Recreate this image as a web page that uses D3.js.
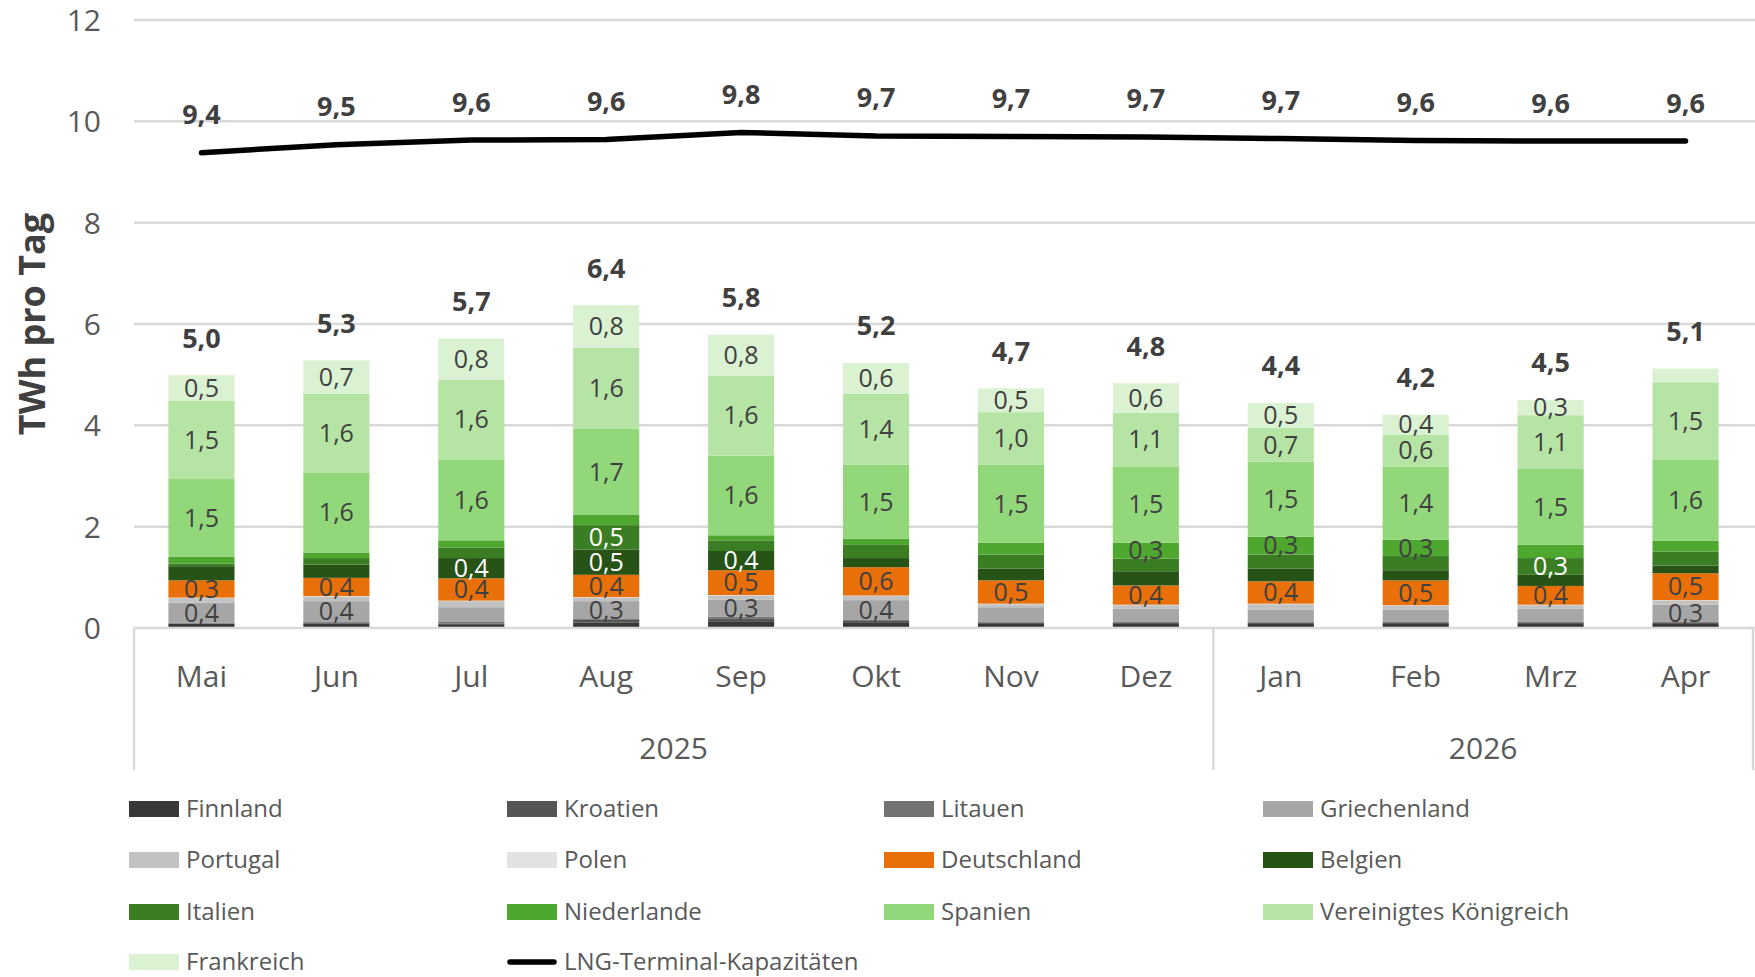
<!DOCTYPE html>
<html>
<head>
<meta charset="utf-8">
<script src="https://cdn.jsdelivr.net/npm/d3@7"></script>
<style>
  body { margin: 0; background: #fff; }
  svg text { font-family: "Open Sans", sans-serif; }
</style>
</head>
<body>
<svg id="chart" width="1755" height="977"></svg>
<script>
// Monate und Jahresgruppen
const months = ["Mai", "Jun", "Jul", "Aug", "Sep", "Okt", "Nov", "Dez", "Jan", "Feb", "Mrz", "Apr"];
const yearGroups = [
  { year: "2025", first: "Mai", last: "Dez" },
  { year: "2026", first: "Jan", last: "Apr" }
];
const yTicks = [0, 2, 4, 6, 8, 10, 12];

// Reihen von unten nach oben (TWh pro Tag)
const seriesNames = ["Finnland", "Kroatien", "Litauen", "Griechenland", "Portugal", "Polen",
  "Deutschland", "Belgien", "Italien", "Niederlande", "Spanien", "Vereinigtes Königreich", "Frankreich"];

const finnland     = [0.08, 0.09, 0.06, 0.11, 0.12, 0.10, 0.08, 0.08, 0.08, 0.08, 0.08, 0.08];
const kroatien     = [0.01, 0.02, 0.03, 0.05, 0.06, 0.04, 0.03, 0.02, 0.03, 0.02, 0.02, 0.02];
const litauen      = [0.01, 0.02, 0.03, 0.03, 0.04, 0.03, 0.02, 0.02, 0.02, 0.02, 0.02, 0.02];
const griechenland = [0.40, 0.40, 0.29, 0.34, 0.34, 0.38, 0.28, 0.26, 0.23, 0.24, 0.26, 0.34];
const portugal     = [0.09, 0.09, 0.12, 0.07, 0.08, 0.08, 0.06, 0.07, 0.11, 0.08, 0.07, 0.08];
const polen        = [0.01, 0.01, 0.01, 0.01, 0.01, 0.01, 0.01, 0.01, 0.01, 0.01, 0.01, 0.01];
const deutschland  = [0.34, 0.36, 0.44, 0.44, 0.49, 0.56, 0.46, 0.38, 0.44, 0.49, 0.37, 0.53];
const belgien      = [0.28, 0.26, 0.40, 0.50, 0.38, 0.18, 0.23, 0.28, 0.25, 0.20, 0.22, 0.15];
const italien      = [0.05, 0.13, 0.21, 0.48, 0.21, 0.26, 0.28, 0.25, 0.28, 0.28, 0.33, 0.28];
const niederlande  = [0.14, 0.11, 0.14, 0.20, 0.10, 0.12, 0.23, 0.31, 0.35, 0.32, 0.26, 0.21];
const spanien      = [1.53, 1.57, 1.60, 1.70, 1.57, 1.46, 1.54, 1.51, 1.48, 1.44, 1.50, 1.61];
const vereinigtesKoenigreich = [1.54, 1.56, 1.57, 1.60, 1.58, 1.40, 1.04, 1.06, 0.67, 0.64, 1.06, 1.52];
const frankreich   = [0.51, 0.66, 0.81, 0.84, 0.81, 0.61, 0.47, 0.58, 0.49, 0.39, 0.30, 0.27];

const lngCapacity  = [9.38, 9.54, 9.63, 9.64, 9.78, 9.71, 9.70, 9.69, 9.66, 9.62, 9.61, 9.61];
const lineName = "LNG-Terminal-Kapazitäten";

const seriesValues = [finnland, kroatien, litauen, griechenland, portugal, polen,
  deutschland, belgien, italien, niederlande, spanien, vereinigtesKoenigreich, frankreich];

const colors = ["#383838", "#555555", "#727272", "#a6a6a6", "#c2c2c2", "#e2e2e2",
  "#e97009", "#275317", "#3b7d23", "#4ea72e", "#92d87a", "#b6e4a4", "#daf2d2"];
const whiteLabelSeries = ["Belgien", "Italien"];

const rows = months.map((m, i) => {
  const r = { month: m };
  seriesNames.forEach((s, j) => r[s] = seriesValues[j][i]);
  return r;
});

const fmt = v => d3.format(".1f")(v).replace(".", ",");

const svg = d3.select("#chart");
svg.append("rect").attr("width", 1755).attr("height", 977).attr("fill", "#fff");

const x = d3.scaleBand().domain(months).range([134, 1753]).paddingInner(0.51).paddingOuter(0.255);
const y = d3.scaleLinear().domain([0, 12]).range([628, 20]);
const color = d3.scaleOrdinal().domain(seriesNames).range(colors);

// Gitterlinien
svg.append("g").selectAll("line").data(yTicks.filter(t => t > 0)).join("line")
  .attr("x1", 134).attr("x2", 1755)
  .attr("y1", d => y(d)).attr("y2", d => y(d))
  .attr("stroke", "#d9d9d9").attr("stroke-width", 2.5);

// Y-Achse
const yAxis = svg.append("g").attr("transform", "translate(118,0)")
  .call(d3.axisLeft(y).tickValues(yTicks).tickSize(0).tickPadding(0));
yAxis.select(".domain").remove();
yAxis.selectAll("text").attr("fill", "#595959").style("font-size", "30px")
  .attr("x", -17).attr("dy", "0.35em");

svg.append("text")
  .attr("transform", "translate(32," + y(6) + ") rotate(-90)")
  .attr("text-anchor", "middle").attr("dy", "0.35em")
  .attr("fill", "#404040").style("font-size", "36px").style("font-weight", "bold")
  .text("TWh pro Tag");

// Gestapelte Balken
const stack = d3.stack().keys(seriesNames)(rows);
const layer = svg.append("g").selectAll("g").data(stack).join("g")
  .attr("fill", d => color(d.key));
layer.selectAll("rect").data(d => d).join("rect")
  .attr("x", d => x(d.data.month))
  .attr("width", x.bandwidth())
  .attr("y", d => y(d[1]))
  .attr("height", d => y(d[0]) - y(d[1]));

// Segmentbeschriftungen
const labels = svg.append("g");
stack.forEach(s => {
  labels.selectAll(null).data(s.filter(d => d[1] - d[0] >= 0.295)).join("text")
    .attr("x", d => x(d.data.month) + x.bandwidth() / 2)
    .attr("y", d => y((d[0] + d[1]) / 2))
    .attr("dy", "0.35em").attr("text-anchor", "middle")
    .attr("fill", whiteLabelSeries.includes(s.key) ? "#ffffff" : "#404040")
    .style("font-size", "25px")
    .text(d => fmt(d[1] - d[0]));
});

// Summen
const totals = rows.map(r => ({ month: r.month, total: d3.sum(seriesNames, s => r[s]) }));
svg.append("g").selectAll("text").data(totals).join("text")
  .attr("x", d => x(d.month) + x.bandwidth() / 2)
  .attr("y", d => y(d.total) - 37)
  .attr("dy", "0.35em").attr("text-anchor", "middle")
  .attr("fill", "#404040").style("font-size", "27px").style("font-weight", "bold")
  .text(d => fmt(d.total));

// X-Achse
svg.append("line").attr("x1", 134).attr("x2", 1755).attr("y1", y(0)).attr("y2", y(0))
  .attr("stroke", "#d9d9d9").attr("stroke-width", 2.5);
const sepX = [134, x("Jan") - x.step() * x.paddingInner() / 2, 1753];
svg.append("g").selectAll("line").data(sepX).join("line")
  .attr("x1", d => d).attr("x2", d => d).attr("y1", y(0)).attr("y2", 770)
  .attr("stroke", "#d9d9d9").attr("stroke-width", 2.5);

svg.append("g").selectAll("text").data(months).join("text")
  .attr("x", d => x(d) + x.bandwidth() / 2).attr("y", 676)
  .attr("dy", "0.35em").attr("text-anchor", "middle")
  .attr("fill", "#595959").style("font-size", "30px")
  .text(d => d);

svg.append("g").selectAll("text").data(yearGroups).join("text")
  .attr("x", d => {
    const a = x(d.first) - x.step() * x.paddingInner() / 2;
    const b = x(d.last) + x.bandwidth() + x.step() * x.paddingInner() / 2;
    return (Math.max(a, 134) + Math.min(b, 1753)) / 2;
  })
  .attr("y", 748).attr("dy", "0.35em").attr("text-anchor", "middle")
  .attr("fill", "#595959").style("font-size", "30px")
  .text(d => d.year);

// Linie LNG-Terminal-Kapazitäten
const line = d3.line().x((d, i) => x(months[i]) + x.bandwidth() / 2).y(d => y(d));
svg.append("path").datum(lngCapacity)
  .attr("d", line).attr("fill", "none")
  .attr("stroke", "#000").attr("stroke-width", 5.5)
  .attr("stroke-linecap", "round").attr("stroke-linejoin", "round");

svg.append("g").selectAll("text").data(lngCapacity).join("text")
  .attr("x", (d, i) => x(months[i]) + x.bandwidth() / 2)
  .attr("y", d => y(d) - 38)
  .attr("dy", "0.35em").attr("text-anchor", "middle")
  .attr("fill", "#404040").style("font-size", "27px").style("font-weight", "bold")
  .text(d => fmt(d));

// Legende
const legendItems = seriesNames.map(s => ({ name: s, type: "rect" }))
  .concat([{ name: lineName, type: "line" }]);
const colX = [129, 507, 884, 1263];
const rowY = [809, 860, 912, 962];
const lg = svg.append("g").selectAll("g").data(legendItems).join("g")
  .attr("transform", (d, i) => "translate(" + colX[i % 4] + "," + rowY[Math.floor(i / 4)] + ")");
lg.filter(d => d.type === "rect").append("rect")
  .attr("x", 0).attr("y", -8).attr("width", 50).attr("height", 16)
  .attr("fill", d => color(d.name));
lg.filter(d => d.type === "line").append("line")
  .attr("x1", 3).attr("x2", 47).attr("y1", 0).attr("y2", 0)
  .attr("stroke", "#000").attr("stroke-width", 5.5).attr("stroke-linecap", "round");
lg.append("text")
  .attr("x", 57).attr("dy", "0.32em")
  .attr("fill", "#595959").style("font-size", "24px")
  .text(d => d.name);
</script>
</body>
</html>
